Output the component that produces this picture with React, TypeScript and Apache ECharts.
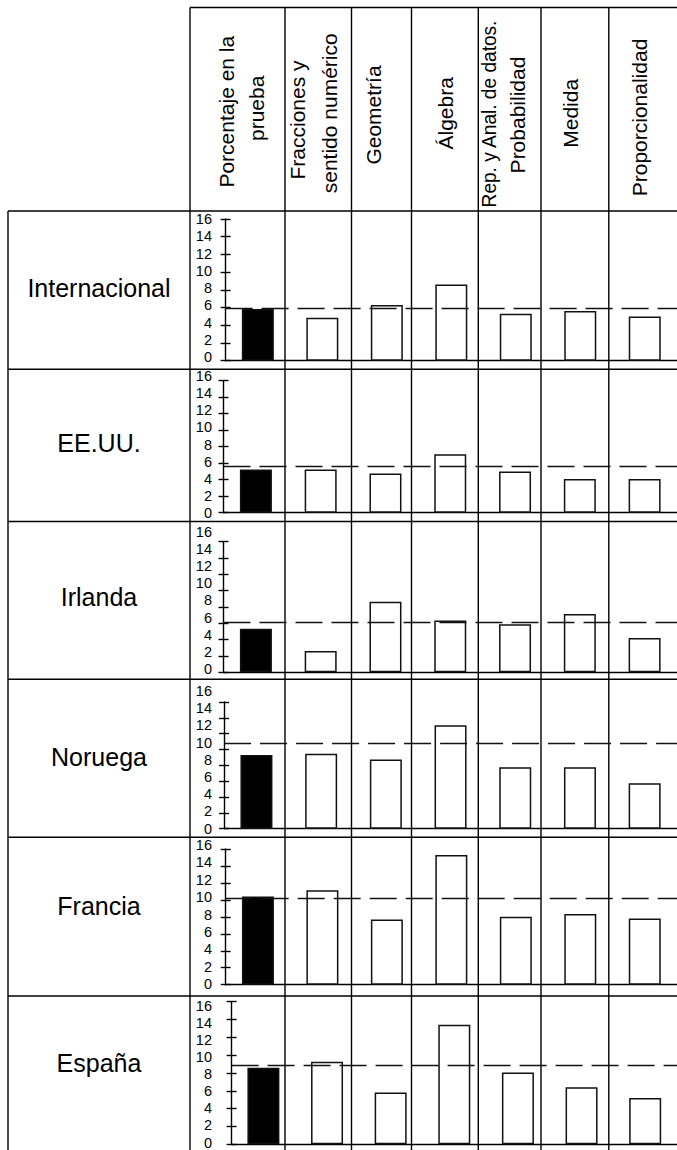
import React, { useEffect, useRef } from 'react';
import * as echarts from 'echarts';

// ---------- data ----------
const categories = [
  'Porcentaje en la prueba',
  'Fracciones y sentido numérico',
  'Geometría',
  'Álgebra',
  'Rep. y Anal. de datos. Probabilidad',
  'Medida',
  'Proporcionalidad',
];
const headerLines = [
  ['Porcentaje en la', 'prueba'],
  ['Fracciones y', 'sentido numérico'],
  ['Geometría'],
  ['Álgebra'],
  ['Rep. y Anal. de datos.', 'Probabilidad'],
  ['Medida'],
  ['Proporcionalidad'],
];
const countries = ['Internacional', 'EE.UU.', 'Irlanda', 'Noruega', 'Francia', 'España'];

const internacional = [5.85, 4.85, 6.3, 8.6, 5.3, 5.6, 5.0];
const eeuu = [5.25, 5.25, 4.75, 7.1, 5.0, 4.1, 4.1];
const irlanda = [5.35, 2.6, 8.65, 6.35, 5.9, 7.15, 4.2];
const noruega = [9.3, 9.45, 8.75, 13.05, 7.75, 7.75, 5.75];
const francia = [10.4, 11.15, 7.7, 15.3, 8.0, 8.35, 7.8];
const espana = [8.6, 9.25, 5.8, 13.4, 8.05, 6.4, 5.2];
const referenceLines = [5.95, 5.6, 6.1, 10.75, 10.25, 8.9];

const yTickLabels = [0, 2, 4, 6, 8, 10, 12, 14, 16];

const rowsData = [internacional, eeuu, irlanda, noruega, francia, espana];

// ---------- layout ----------
const FONT = '"Liberation Sans", Arial, Helvetica, sans-serif';
const W = 677;
const H = 1150;
const HEADER_TOP = 7.5;
const TABLE_LEFT = 8;
const LABEL_COL_RIGHT = 190;
const ROW_TOPS = [211, 369.3, 521.5, 679.3, 837.3, 996];
const COL_LINES = [285, 351.5, 411.5, 478.3, 541, 608.8];
const PLOT = [
  { left: 225.6, width: 458.2, top: 219, base: 360.7 },
  { left: 223.5, width: 458.3, top: 380.7, base: 512.7 },
  { left: 223.5, width: 458.3, top: 541.7, base: 672.3 },
  { left: 224.1, width: 460, top: 702, base: 828.7 },
  { left: 225.7, width: 456.4, top: 849, base: 984.7 },
  { left: 231.6, width: 450, top: 1001.7, base: 1144.3 },
];
const LABEL_BAND = [
  [219, 357.3],
  [375.7, 513.3],
  [531.7, 669],
  [691, 828.5],
  [845, 984],
  [1005.7, 1143.3],
];
const LABEL_RIGHT = 212;
const ROW_LABEL_X = 99;
const ROW_LABEL_Y = [288, 443.3, 597, 756.5, 905.7, 1063.3];
const HEADER_POS = [
  [{ x: 226, y: 111.7 }, { x: 256, y: 108.3 }],
  [{ x: 297.6, y: 120 }, { x: 329, y: 113.3 }],
  [{ x: 373, y: 115 }],
  [{ x: 445.8, y: 113.3 }],
  [{ x: 489, y: 114, s: 0.91 }, { x: 517.5, y: 115 }],
  [{ x: 570.8, y: 113.3 }],
  [{ x: 639.5, y: 117.5 }],
];
const LINE_COLOR = '#000';
const LINE_W = 1.4;

function buildOption() {
  const yMin = yTickLabels[0];
  const yMax = yTickLabels[yTickLabels.length - 1];
  const yInt = yTickLabels[1] - yTickLabels[0];

  const grid: any[] = [];
  const xAxis: any[] = [];
  const yAxis: any[] = [];
  const series: any[] = [];

  rowsData.forEach((vals, r) => {
    const p = PLOT[r];
    const lb = LABEL_BAND[r];
    grid.push({ left: p.left, top: p.top, width: p.width, height: p.base - p.top });
    grid.push({ left: LABEL_RIGHT + 2, top: lb[0], width: 4, height: lb[1] - lb[0] });

    xAxis.push({
      type: 'category',
      gridIndex: 2 * r,
      data: categories,
      axisLine: { show: true, onZero: false, lineStyle: { color: LINE_COLOR, width: LINE_W } },
      axisTick: { show: false },
      axisLabel: { show: false },
      splitLine: { show: false },
    });
    xAxis.push({ type: 'value', gridIndex: 2 * r + 1, show: false });

    yAxis.push({
      type: 'value',
      gridIndex: 2 * r,
      position: 'left',
      min: yMin,
      max: yMax,
      interval: yInt,
      axisLine: { show: true, lineStyle: { color: LINE_COLOR, width: LINE_W } },
      axisTick: { show: true, length: 5, lineStyle: { color: LINE_COLOR, width: LINE_W } },
      axisLabel: { show: false },
      splitLine: { show: false },
    });
    yAxis.push({
      type: 'value',
      gridIndex: 2 * r,
      position: 'left',
      offset: 0,
      min: yMin,
      max: yMax,
      interval: yInt,
      axisLine: { show: false },
      axisTick: { show: true, inside: true, length: 5, lineStyle: { color: LINE_COLOR, width: LINE_W } },
      axisLabel: { show: false },
      splitLine: { show: false },
    });
    yAxis.push({
      type: 'value',
      gridIndex: 2 * r + 1,
      position: 'left',
      min: yMin,
      max: yMax,
      interval: yInt,
      axisLine: { show: false },
      axisTick: { show: false },
      axisLabel: { show: true, margin: 2, color: '#000', fontSize: 14.5, fontFamily: FONT },
      splitLine: { show: false },
    });

    series.push({
      type: 'bar',
      name: countries[r],
      xAxisIndex: 2 * r,
      yAxisIndex: 3 * r,
      barWidth: 32,
      silent: true,
      itemStyle: { borderColor: '#111', borderWidth: 1.5 },
      data: vals.map((v, i) => ({ value: v, itemStyle: { color: i === 0 ? '#000' : '#fff' } })),
      markLine: {
        silent: true,
        symbol: ['none', 'none'],
        label: { show: false },
        lineStyle: { type: [27, 9], color: '#111', width: 1.4 },
        emphasis: { disabled: true },
        data: [{ yAxis: referenceLines[r] }],
      },
    });
  });

  const graphic: any[] = [];
  const line = (x1: number, y1: number, x2: number, y2: number) =>
    graphic.push({
      type: 'line',
      silent: true,
      shape: { x1, y1, x2, y2 },
      style: { stroke: LINE_COLOR, lineWidth: LINE_W },
    });
  line(LABEL_COL_RIGHT, HEADER_TOP, W, HEADER_TOP);
  line(LABEL_COL_RIGHT, HEADER_TOP, LABEL_COL_RIGHT, H);
  line(TABLE_LEFT, ROW_TOPS[0], TABLE_LEFT, H);
  COL_LINES.forEach((x) => line(x, HEADER_TOP, x, H));
  ROW_TOPS.forEach((y) => line(TABLE_LEFT, y, W, y));

  countries.forEach((c, r) =>
    graphic.push({
      type: 'text',
      silent: true,
      x: ROW_LABEL_X,
      y: ROW_LABEL_Y[r],
      style: {
        text: c,
        fill: '#000',
        fontSize: 25,
        fontFamily: FONT,
        align: 'center',
        verticalAlign: 'middle',
        textAlign: 'center',
        textVerticalAlign: 'middle',
      },
    })
  );

  headerLines.forEach((lines, ci) =>
    lines.forEach((t, li) => {
      const pos: any = HEADER_POS[ci][li];
      graphic.push({
        type: 'text',
        silent: true,
        x: pos.x,
        y: pos.y,
        rotation: Math.PI / 2,
        scaleX: pos.s || 1,
        style: {
          text: t,
          fill: '#000',
          fontSize: 21,
          fontFamily: FONT,
          align: 'center',
          verticalAlign: 'middle',
          textAlign: 'center',
          textVerticalAlign: 'middle',
        },
      });
    })
  );

  return {
    animation: false,
    backgroundColor: '#fff',
    grid,
    xAxis,
    yAxis,
    series,
    graphic,
  };
}

export default function App() {
  const ref = useRef<HTMLDivElement>(null);
  useEffect(() => {
    if (!ref.current) return;
    const chart = echarts.init(ref.current, undefined, { renderer: 'svg' });
    chart.setOption(buildOption() as any);
    return () => chart.dispose();
  }, []);
  return (
    <div
      ref={ref}
      style={{ position: 'absolute', left: 0, top: 0, width: W, height: H, background: '#fff' }}
    />
  );
}
